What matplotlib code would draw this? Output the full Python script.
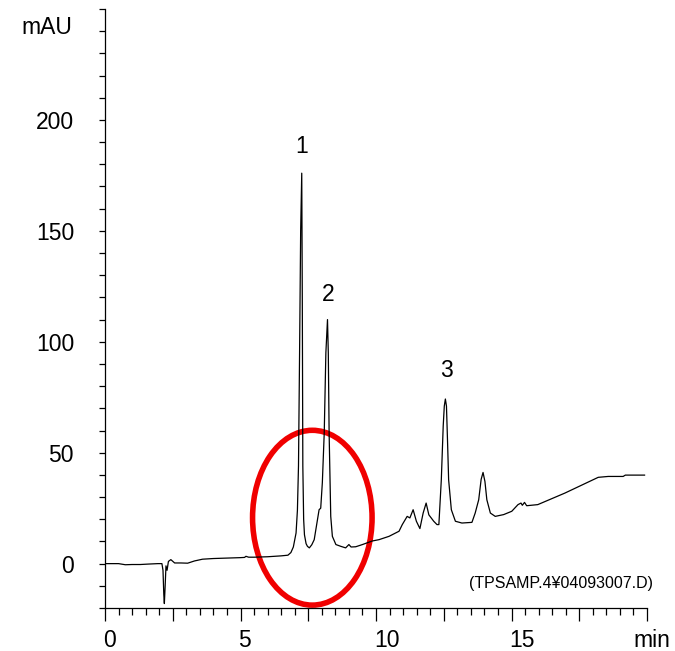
import matplotlib
matplotlib.use("Agg")
import matplotlib.pyplot
import matplotlib.patches
import matplotlib.ticker
import matplotlib.transforms

# chromatogram trace (time in min, absorbance in mAU)
time_min = [0.0, 0.5, 0.75, 1.0, 1.3, 1.6, 1.95, 2.10, 2.14, 2.17, 2.19, 2.22,
            2.25, 2.29, 2.34, 2.43, 2.57, 2.8, 3.05, 3.3, 3.6, 4.0, 4.5, 5.0,
            5.15, 5.2, 5.3, 5.5, 6.0, 6.5, 6.75, 6.86, 6.95, 7.05, 7.10, 7.14,
            7.18, 7.22, 7.26, 7.28, 7.30, 7.33, 7.36, 7.42, 7.47, 7.54, 7.63,
            7.72, 7.84, 7.90, 7.96, 8.02, 8.09, 8.15, 8.21, 8.24, 8.27, 8.33,
            8.39, 8.52, 8.70, 8.88, 9.00, 9.08, 9.25, 9.50, 9.86,
            10.11, 10.48, 10.85, 10.97, 11.15, 11.25, 11.37, 11.49, 11.62,
            11.74, 11.85, 11.95, 12.13, 12.25, 12.32, 12.41, 12.48,
            12.52, 12.56, 12.60, 12.64, 12.68, 12.78, 12.93, 13.17,
            13.54, 13.66, 13.79, 13.88, 13.95, 14.02, 14.09, 14.22,
            14.40, 14.71, 15.01, 15.24, 15.35, 15.40, 15.48, 15.56, 15.97,
            16.97, 18.2, 18.57, 19.12, 19.2, 19.91]
signal_mau = [0.0, 0.0, -0.5, -0.4, -0.4, -0.2, 0.0, 0.0, -3.0, -14.0, -18.0,
              -10.0, -1.0, -3.0, 1.0, 1.8, 0.3, 0.3, 0.2, 1.2, 2.0, 2.3, 2.5,
              2.7, 2.8, 3.3, 2.9, 2.9, 3.1, 3.5, 3.8, 5.0, 7.5, 13.8, 24.0,
              44.0, 95.0, 150.0, 176.0, 120.0, 44.0, 20.0, 13.0, 9.0, 7.8,
              7.1, 8.5, 10.8, 19.8, 24.3, 25.0, 36.5, 59.0, 95.0, 110.0, 95.0,
              59.0, 21.3, 12.3, 8.6, 7.8, 7.1, 8.6, 7.5, 7.6, 8.6, 10.2,
              10.8, 12.3, 14.6, 17.6, 21.3, 20.6, 24.3, 19.1, 15.8,
              22.8, 27.3, 22.0, 19.1, 17.6, 17.6, 37.8, 62.0,
              71.0, 74.2, 71.0, 55.0, 37.8, 24.3, 19.1, 18.3,
              18.6, 22.8, 28.8, 38.0, 41.1, 37.0, 28.8, 22.8,
              21.3, 22.1, 23.6, 26.6, 27.3, 26.3, 27.6, 26.1, 26.6,
              31.8, 38.9, 39.3, 39.3, 39.9, 39.9]

peak_names = ["1", "2", "3"]
peak_label_t = [7.24, 8.24, 12.59]
peak_label_v = [185.0, 118.6, 84.1]

x_tick_labels = ["0", "5", "10", "15"]
y_tick_labels = ["0", "50", "100", "150", "200"]

file_note = "(TPSAMP.4\u00a504093007.D)"

if __name__ == "__main__":
    matplotlib.pyplot.rc('font', family=['Liberation Sans', 'DejaVu Sans'], size=16.5)
    fig = matplotlib.pyplot.figure(figsize=(6.75, 6.51), dpi=100)
    ax = fig.add_axes([105 / 675, 1 - 608 / 651, 542 / 675, 599 / 651])

    ax.set_xlim(0, 20)
    ax.set_ylim(-20, 250)
    for side in ("top", "right"):
        ax.spines[side].set_visible(False)
    for side in ("left", "bottom"):
        ax.spines[side].set_linewidth(0.9)

    ring = matplotlib.patches.Ellipse((7.65, 20.7), 4.41, 78.8, fill=False,
                                      edgecolor="#f00000", linewidth=4.0, zorder=1)
    ax.add_patch(ring)
    ax.plot(time_min, signal_mau, color="black", linewidth=0.9, zorder=2)

    # x axis: long ticks each 2.5 min, short every 0.5 min, labels at 0/5/10/15
    ax.xaxis.set_major_locator(matplotlib.ticker.MultipleLocator(2.5))
    ax.xaxis.set_minor_locator(matplotlib.ticker.MultipleLocator(0.5))
    ax.xaxis.set_major_formatter(matplotlib.ticker.FuncFormatter(
        lambda v, p: x_tick_labels[int(round(v / 5))]
        if abs(v / 5 - round(v / 5)) < 1e-6 and int(round(v / 5)) < len(x_tick_labels) else ""))
    ax.tick_params(axis="x", which="major", direction="out", length=9.4, width=0.9, pad=6)
    ax.tick_params(axis="x", which="minor", direction="out", length=5.0, width=0.9)
    shift = matplotlib.transforms.ScaledTranslation(-0.02, 0, fig.dpi_scale_trans)
    for lab in ax.get_xticklabels():
        lab.set_horizontalalignment("left")
        lab.set_transform(lab.get_transform() + shift)

    # y axis: labels every 50, ticks every 10
    ax.set_yticks([0, 50, 100, 150, 200], y_tick_labels)
    ax.yaxis.set_minor_locator(matplotlib.ticker.MultipleLocator(10))
    ax.tick_params(axis="y", which="both", direction="out", length=4.3, width=0.9, pad=18)

    for name, t, v in zip(peak_names, peak_label_t, peak_label_v):
        ax.text(t, v, name, ha="center", va="baseline")

    fig.text(72 / 675, 1 - 34 / 651, "mAU", ha="right", va="baseline")
    fig.text(633 / 675, 1 - 647 / 651, "min", ha="left", va="baseline")
    fig.text(653 / 675, 1 - 588 / 651, file_note, ha="right", va="baseline", fontsize=11.5)

    matplotlib.pyplot.savefig("out.png", dpi=100)
